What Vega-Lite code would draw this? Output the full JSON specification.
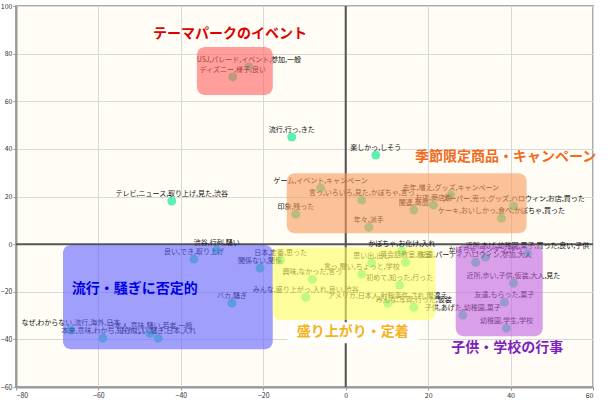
{
  "$schema": "https://vega.github.io/schema/vega-lite/v6.json",
  "width": 577,
  "height": 381,
  "autosize": "none",
  "padding": {"left": 16, "top": 6, "right": 17, "bottom": 13},
  "background": "#ffffff",
  "config": {
    "font": "Noto Sans CJK JP",
    "view": {"fill": "#fffdf6", "stroke": "#aaaaaa", "strokeWidth": 2},
    "axis": {
      "gridColor": "#d9d9d9",
      "gridWidth": 1,
      "domainColor": "#999999",
      "domainWidth": 2,
      "tickColor": "#999999",
      "tickSize": 3,
      "labelFontSize": 7,
      "labelColor": "#333333",
      "labelPadding": 1,
      "title": null
    }
  },
  "datasets": {
    "pts": [
      {"x": -23.5, "y": 74.4, "label": "USJ,パレード,イベント,参加,一般"},
      {"x": -27.4, "y": 70.2, "label": "ディズニー,様子,良い"},
      {"x": -13.1, "y": 45.0, "label": "流行,行っ,きた"},
      {"x": 7.3, "y": 37.4, "label": "楽しかっ,しそう"},
      {"x": -42.2, "y": 18.1, "label": "テレビ,ニュース,取り上げ,見た,渋谷"},
      {"x": -6.1, "y": 23.5, "label": "ゲーム,イベント,キャンペーン"},
      {"x": 3.9, "y": 18.5, "label": "言っ,いろいろ,見た,かぼちゃ,言っ"},
      {"x": -12.1, "y": 12.6, "label": "印象,残った"},
      {"x": 5.6, "y": 7.1, "label": "年々,派手"},
      {"x": 16.5, "y": 14.3, "label": "関連,商品"},
      {"x": 21.3, "y": 16.4, "label": "お店,商店街"},
      {"x": 25.5, "y": 20.6, "label": "去年,増え,グッズ,キャンペーン"},
      {"x": 40.7, "y": 16.0, "label": "スーパー,売っ,グッズ,ハロウィン,お店,買った"},
      {"x": 37.8, "y": 10.9, "label": "ケーキ,おいしかっ,食べ,かぼちゃ,買った"},
      {"x": -31.3, "y": -2.5, "label": "渋谷,行列,騒い"},
      {"x": -36.8, "y": -6.3, "label": "良い,でき,取り上げ"},
      {"x": -20.8, "y": -10.1, "label": "関係ない,関係"},
      {"x": -27.6, "y": -24.8, "label": "バカ,騒ぎ"},
      {"x": -66.7, "y": -36.1, "label": "なぜ,わからない,流行,海外,日本"},
      {"x": -58.9, "y": -39.5, "label": "本来,意味,わから,知らない"},
      {"x": -47.5, "y": -37.5, "label": "日本人,意味,騒い,若者,一般"},
      {"x": -45.5, "y": -39.5, "label": "おかしい,騒ぎ,日本,入れ"},
      {"x": -15.8, "y": -6.7, "label": "日本,定番,思った"},
      {"x": 13.6, "y": -2.9, "label": "かぼちゃ,お化け,入れ"},
      {"x": 6.3, "y": -8.0, "label": "思い出,出し"},
      {"x": 14.5, "y": -7.6, "label": "英会話教室,教室"},
      {"x": 3.9, "y": -12.6, "label": "言っ,聞い,ちょっと,学校"},
      {"x": -8.1, "y": -14.8, "label": "興味,なかった,言っ"},
      {"x": 13.1, "y": -17.2, "label": "初めて,知った,行った"},
      {"x": -9.7, "y": -22.3, "label": "みんな,盛り上がっ,入れ,良い,渋谷"},
      {"x": 10.2, "y": -24.8, "label": "アメリカ,日本人,射殺事件,され,間違え"},
      {"x": 16.5, "y": -26.5, "label": "みんな,写真,行った,仮装"},
      {"x": 28.4, "y": -29.8, "label": "子供,あげた,幼稚園,菓子"},
      {"x": 44.1, "y": -3.8, "label": "近所,あげ,幼稚園,菓子,買った,良い,子供"},
      {"x": 33.9, "y": -5.4, "label": "かぼちゃ,ランタン,作っ"},
      {"x": 31.5, "y": -7.6, "label": "友達,パーティ,ハロウィン,参加,大人"},
      {"x": 40.7, "y": -16.4, "label": "近所,歩い,子供,仮装,大人,見た"},
      {"x": 38.5, "y": -24.4, "label": "友達,もらった,菓子"},
      {"x": 39.0, "y": -35.3, "label": "幼稚園,学生,学校"}
    ],
    "boxes": [
      {"grp": "theme", "x1": -36.1, "x2": -17.7, "y1": 62.6, "y2": 82.8},
      {"grp": "season", "x1": -14.3, "x2": 43.9, "y1": 4.6, "y2": 29.8},
      {"grp": "negative", "x1": -68.6, "x2": -17.7, "y1": -44.1, "y2": -0.4},
      {"grp": "excite", "x1": -17.7, "x2": 21.8, "y1": -31.9, "y2": -1.3},
      {"grp": "kids", "x1": 26.7, "x2": 47.8, "y1": -38.7, "y2": -0.4}
    ],
    "titles": [
      {"grp": "theme", "x": -28.1, "y": 88.2, "text": "テーマパークのイベント"},
      {"grp": "season", "x": 38.8, "y": 36.5, "text": "季節限定商品・キャンペーン"},
      {"grp": "negative", "x": -51.2, "y": -18.9, "text": "流行・騒ぎに否定的"},
      {"grp": "excite", "x": 1.7, "y": -37.0, "text": "盛り上がり・定着"},
      {"grp": "kids", "x": 39.2, "y": -43.7, "text": "子供・学校の行事"}
    ],
    "whitebg": [
      {"x1": -14.1, "x2": 17.7, "y1": -41.6, "y2": -32.8}
    ]
  },
  "layer": [
    {
      "data": {"name": "pts"},
      "mark": {"type": "point", "opacity": 0},
      "encoding": {
        "x": {"field": "x", "type": "quantitative", "scale": {"domain": [-80, 60], "nice": false, "zero": false},
              "axis": {"values": [-80, -60, -40, -20, 0, 20, 40, 60]}},
        "y": {"field": "y", "type": "quantitative", "scale": {"domain": [-60, 100], "nice": false, "zero": false},
              "axis": {"values": [-60, -40, -20, 0, 20, 40, 60, 80, 100]}}
      }
    },
    {
      "data": {"values": [{}]},
      "mark": {"type": "rule", "color": "#555555", "strokeWidth": 2},
      "encoding": {"y": {"datum": 0}}
    },
    {
      "data": {"values": [{}]},
      "mark": {"type": "rule", "color": "#555555", "strokeWidth": 2},
      "encoding": {"x": {"datum": 0}}
    },
    {
      "data": {"name": "pts"},
      "mark": {"type": "circle", "size": 80, "color": "#5ef0b0", "opacity": 1},
      "encoding": {
        "x": {"field": "x", "type": "quantitative"},
        "y": {"field": "y", "type": "quantitative"}
      }
    },
    {
      "data": {"name": "pts"},
      "mark": {"type": "text", "fontSize": 7, "dy": -7, "color": "#111111"},
      "encoding": {
        "x": {"field": "x", "type": "quantitative"},
        "y": {"field": "y", "type": "quantitative"},
        "text": {"field": "label"}
      }
    },
    {
      "data": {"name": "boxes"},
      "mark": {"type": "rect", "cornerRadius": 8, "opacity": 0.6},
      "encoding": {
        "x": {"field": "x1", "type": "quantitative"},
        "x2": {"field": "x2"},
        "y": {"field": "y1", "type": "quantitative"},
        "y2": {"field": "y2"},
        "fill": {"field": "grp", "type": "nominal", "legend": null,
                 "scale": {"domain": ["theme", "season", "negative", "excite", "kids"],
                           "range": ["#ff5f5f", "#f89a5a", "#6060ff", "#ffff60", "#c060e0"]}}
      }
    },
    {
      "data": {"name": "whitebg"},
      "mark": {"type": "rect", "color": "#ffffff", "opacity": 1},
      "encoding": {
        "x": {"field": "x1", "type": "quantitative"},
        "x2": {"field": "x2"},
        "y": {"field": "y1", "type": "quantitative"},
        "y2": {"field": "y2"}
      }
    },
    {
      "data": {"name": "titles"},
      "mark": {"type": "text", "fontSize": 14, "fontWeight": "bold", "baseline": "middle"},
      "encoding": {
        "x": {"field": "x", "type": "quantitative"},
        "y": {"field": "y", "type": "quantitative"},
        "text": {"field": "text"},
        "color": {"field": "grp", "type": "nominal", "legend": null,
                  "scale": {"domain": ["theme", "season", "negative", "excite", "kids"],
                            "range": ["#e00000", "#f26b1d", "#0000e6", "#f5b21b", "#7f1fbf"]}}
      }
    }
  ]
}
